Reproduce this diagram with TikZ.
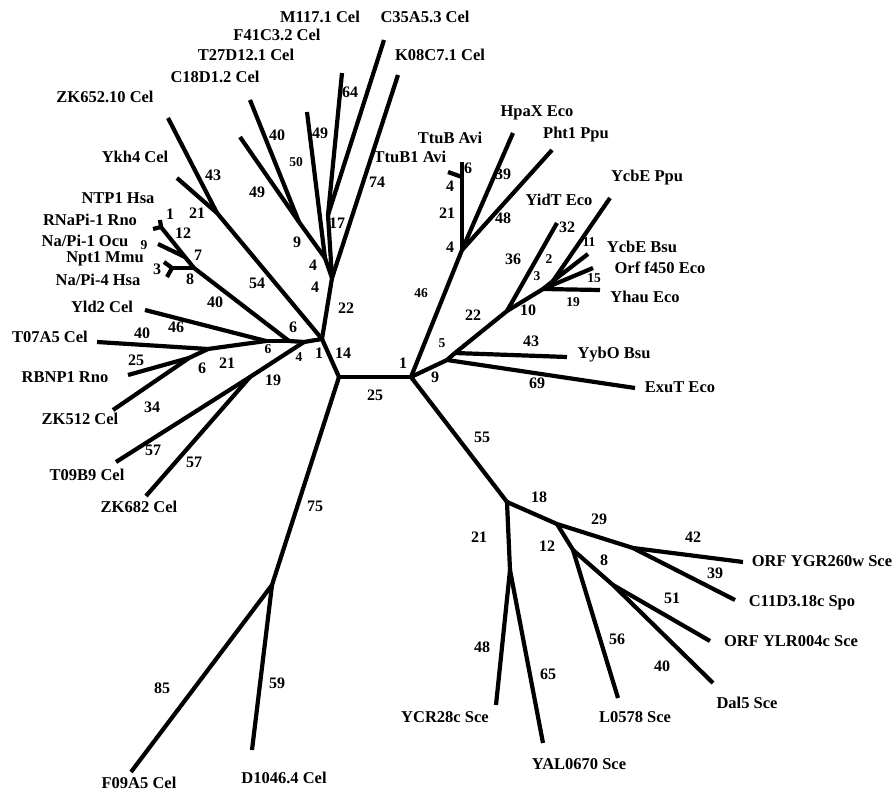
\documentclass[tikz,border=0pt]{standalone}
\usepackage{fontspec}
\setmainfont{Liberation Serif}
\begin{document}
\begin{tikzpicture}[x=1pt,y=-1pt,
  branch/.style={line width=4.2pt,line join=round},
  leaf/.style={font=\bfseries\fontsize{16.5}{16.5}\selectfont,inner sep=0pt},
  num/.style={font=\bfseries\fontsize{16}{16}\selectfont,inner sep=0pt},
  snum/.style={font=\bfseries\fontsize{13.5}{13.5}\selectfont,inner sep=0pt}]
\useasboundingbox (0,0) rectangle (895,791);

% ---- internal vertices ----
\coordinate (L) at (339,377);  \coordinate (R) at (411,377);
\coordinate (H1) at (322,339); \coordinate (H2) at (304,342);
\coordinate (H3) at (289,341); \coordinate (J3) at (266,341);
\coordinate (F) at (272,585);
\coordinate (B) at (332,278);  \coordinate (D) at (328,215);
\coordinate (C) at (325,258);  \coordinate (E) at (299,222);
\coordinate (Y) at (217,213);
\coordinate (N1) at (194,268); \coordinate (N4) at (172,268);
\coordinate (N2) at (185,257); \coordinate (N3) at (161,227);
\coordinate (G) at (250,377);
\coordinate (J1) at (208,349); \coordinate (J2) at (189,358);
\coordinate (Q) at (447,360);  \coordinate (S) at (455,353);
\coordinate (V) at (507,311);  \coordinate (W) at (543,289);
\coordinate (X) at (553,281);
\coordinate (T) at (462,250);  \coordinate (Tt) at (462,177);
\coordinate (Z) at (507,502);  \coordinate (Z3) at (510,570);
\coordinate (Z2) at (557,524); \coordinate (Z4) at (633,548);
\coordinate (Z5) at (573,550); \coordinate (Z6) at (613,585);

% ---- leaf tips ----
\coordinate (tF09) at (131,772);  \coordinate (tD10) at (252,750);
\coordinate (tK08) at (398,75);   \coordinate (tC35) at (384,40);
\coordinate (tM117) at (342,73);  \coordinate (tF41) at (307,112);
\coordinate (tT27) at (250,100);  \coordinate (tC18) at (240,137);
\coordinate (tZK652) at (168,118); \coordinate (tYkh4) at (177,178);
\coordinate (tNpt1) at (164,262); \coordinate (tNaPi4) at (167,277);
\coordinate (tNaPi1) at (158,244);
\coordinate (tRNaPi) at (153,229); \coordinate (tNTP1) at (160,220);
\coordinate (tT09) at (116,462);  \coordinate (tZK682) at (146,496);
\coordinate (tYld2) at (145,310); \coordinate (tT07) at (97,342);
\coordinate (tRBNP) at (128,375); \coordinate (tZK512) at (113,410);
\coordinate (tYybO) at (567,357); \coordinate (tExuT) at (635,388);
\coordinate (tYidT) at (557,223); \coordinate (tYhau) at (600,290);
\coordinate (tOrf) at (593,268);  \coordinate (tYcbEB) at (588,254);
\coordinate (tYcbEP) at (610,198);
\coordinate (tTtuB) at (462,162); \coordinate (tTtuB1) at (448,172);
\coordinate (tHpaX) at (513,133); \coordinate (tPht1) at (552,150);
\coordinate (tYCR) at (496,705);  \coordinate (tYAL) at (543,743);
\coordinate (tYGR) at (743,562);  \coordinate (tC11) at (735,600);
\coordinate (tL05) at (618,698);  \coordinate (tYLR) at (710,641);
\coordinate (tDal5) at (713,683);

% ---- branches ----
\draw[branch] (L) -- (R);
\draw[branch] (L) -- (H1);
\draw[branch] (L) -- (F);
\draw[branch] (F) -- (tF09);
\draw[branch] (F) -- (tD10);
\draw[branch] (H1) -- (B);
\draw[branch] (B) -- (tK08);
\draw[branch] (B) -- (D);
\draw[branch] (D) -- (tC35);
\draw[branch] (D) -- (tM117);
\draw[branch] (B) -- (C);
\draw[branch] (C) -- (tF41);
\draw[branch] (C) -- (E);
\draw[branch] (E) -- (tT27);
\draw[branch] (E) -- (tC18);
\draw[branch] (H1) -- (Y);
\draw[branch] (Y) -- (tZK652);
\draw[branch] (Y) -- (tYkh4);
\draw[branch] (H1) -- (H2);
\draw[branch] (H2) -- (H3);
\draw[branch] (H3) -- (J3);
\draw[branch] (H3) -- (N1);
\draw[branch] (N1) -- (N4);
\draw[branch] (N4) -- (tNpt1);
\draw[branch] (N4) -- (tNaPi4);
\draw[branch] (N1) -- (N2);
\draw[branch] (N2) -- (tNaPi1);
\draw[branch] (N2) -- (N3);
\draw[branch] (N3) -- (tRNaPi);
\draw[branch] (N3) -- (tNTP1);
\draw[branch] (H2) -- (G);
\draw[branch] (G) -- (tT09);
\draw[branch] (G) -- (tZK682);
\draw[branch] (J3) -- (tYld2);
\draw[branch] (J3) -- (J1);
\draw[branch] (J1) -- (tT07);
\draw[branch] (J1) -- (J2);
\draw[branch] (J2) -- (tRBNP);
\draw[branch] (J2) -- (tZK512);

\draw[branch] (R) -- (Q);
\draw[branch] (Q) -- (tExuT);
\draw[branch] (Q) -- (S);
\draw[branch] (S) -- (tYybO);
\draw[branch] (S) -- (V);
\draw[branch] (V) -- (tYidT);
\draw[branch] (V) -- (W);
\draw[branch] (W) -- (tYhau);
\draw[branch] (W) -- (tOrf);
\draw[branch] (W) -- (X);
\draw[branch] (X) -- (tYcbEB);
\draw[branch] (X) -- (tYcbEP);
\draw[branch] (R) -- (T);
\draw[branch] (T) -- (tHpaX);
\draw[branch] (T) -- (tPht1);
\draw[branch] (T) -- (Tt);
\draw[branch] (Tt) -- (tTtuB);
\draw[branch] (Tt) -- (tTtuB1);

\draw[branch] (R) -- (Z);
\draw[branch] (Z) -- (Z3);
\draw[branch] (Z3) -- (tYCR);
\draw[branch] (Z3) -- (tYAL);
\draw[branch] (Z) -- (Z2);
\draw[branch] (Z2) -- (Z4);
\draw[branch] (Z4) -- (tYGR);
\draw[branch] (Z4) -- (tC11);
\draw[branch] (Z2) -- (Z5);
\draw[branch] (Z5) -- (tL05);
\draw[branch] (Z5) -- (Z6);
\draw[branch] (Z6) -- (tYLR);
\draw[branch] (Z6) -- (tDal5);

% ---- leaf names ----
\node[leaf] (nM117) at (320,17) {M117.1 Cel};
\node[leaf] (nC35) at (425,17) {C35A5.3 Cel};
\node[leaf] (nF41) at (277,35) {F41C3.2 Cel};
\node[leaf] (nK08) at (440,55) {K08C7.1 Cel};
\node[leaf] (nT27) at (246,55) {T27D12.1 Cel};
\node[leaf] (nC18) at (215,77) {C18D1.2 Cel};
\node[leaf] (nZK652) at (105,97) {ZK652.10 Cel};
\node[leaf] (nYkh4) at (135,157) {Ykh4 Cel};
\node[leaf] (nNTP1) at (118,198) {NTP1 Hsa};
\node[leaf] (nRNaPi) at (90,220) {RNaPi-1 Rno};
\node[leaf] (nNaPi1) at (85,241) {Na/Pi-1 Ocu};
\node[leaf] (nNpt1) at (105,259) {Npt1 Mmu};
\node[leaf] (nNaPi4) at (98,280) {Na/Pi-4 Hsa};
\node[leaf] (nYld2) at (102,307) {Yld2 Cel};
\node[leaf] (nT07) at (50,337) {T07A5 Cel};
\node[leaf] (nRBNP) at (65,377) {RBNP1 Rno};
\node[leaf] (nZK512) at (80,419) {ZK512 Cel};
\node[leaf] (nT09) at (87,475) {T09B9 Cel};
\node[leaf] (nZK682) at (139,507) {ZK682 Cel};
\node[leaf] (nF09) at (139,783) {F09A5 Cel};
\node[leaf] (nD10) at (284,778) {D1046.4 Cel};
\node[leaf] (nTtuB) at (450,138) {TtuB Avi};
\node[leaf] (nTtuB1) at (410,157) {TtuB1 Avi};
\node[leaf] (nHpaX) at (537,113) {HpaX Eco};
\node[leaf] (nPht1) at (576,135) {Pht1 Ppu};
\node[leaf] (nYidT) at (559,200) {YidT Eco};
\node[leaf] (nYcbEP) at (647,178) {YcbE Ppu};
\node[leaf] (nYcbEB) at (642,247) {YcbE Bsu};
\node[leaf] (nOrf) at (660,268) {Orf f450 Eco};
\node[leaf] (nYhau) at (645,297) {Yhau Eco};
\node[leaf] (nYybO) at (614,355) {YybO Bsu};
\node[leaf] (nExuT) at (680,387) {ExuT Eco};
\node[leaf] (nYGR) at (822,561) {ORF YGR260w Sce};
\node[leaf] (nC11) at (802,603) {C11D3.18c Spo};
\node[leaf] (nYLR) at (791,641) {ORF YLR004c Sce};
\node[leaf] (nDal5) at (747,703) {Dal5 Sce};
\node[leaf] (nL05) at (635,717) {L0578 Sce};
\node[leaf] (nYCR) at (445,717) {YCR28c Sce};
\node[leaf] (nYAL) at (579,764) {YAL0670 Sce};

% ---- branch lengths ----
\node[num] (b01) at (375,395) {25};
\node[num] (b02) at (343,353) {14};
\node[num] (b03) at (319,353) {1};
\node[num] (b04) at (403,363) {1};
\node[num] (b05) at (315,506) {75};
\node[num] (b06) at (162,688) {85};
\node[num] (b07) at (277,683) {59};
\node[num] (b08) at (346,308) {22};
\node[num] (b09) at (315,287) {4};
\node[num] (b10) at (313,265) {4};
\node[num] (b11) at (337,223) {17};
\node[num] (b12) at (377,182) {74};
\node[num] (b13) at (350,92) {64};
\node[num] (b14) at (320,133) {49};
\node[snum] (b15) at (296,162) {50};
\node[num] (b16) at (277,135) {40};
\node[num] (b17) at (257,192) {49};
\node[num] (b18) at (297,242) {9};
\node[num] (b19) at (257,283) {54};
\node[num] (b20) at (213,175) {43};
\node[num] (b21) at (197,213) {21};
\node[num] (b22) at (293,327) {6};
\node[snum] (b23) at (268,349) {6};
\node[snum] (b24) at (299,357) {4};
\node[num] (b25) at (227,363) {21};
\node[num] (b26) at (202,368) {6};
\node[num] (b27) at (176,327) {46};
\node[num] (b28) at (142,333) {40};
\node[num] (b29) at (136,360) {25};
\node[num] (b30) at (152,407) {34};
\node[num] (b31) at (273,380) {19};
\node[num] (b32) at (153,450) {57};
\node[num] (b33) at (194,462) {57};
\node[num] (b34) at (170,214) {1};
\node[num] (b35) at (183,233) {12};
\node[snum] (b36) at (144,245) {9};
\node[num] (b37) at (198,255) {7};
\node[num] (b38) at (157,269) {3};
\node[num] (b39) at (190,279) {8};
\node[num] (b40) at (215,302) {40};
\node[snum] (b41) at (421,293) {46};
\node[num] (b42) at (450,247) {4};
\node[num] (b43) at (447,213) {21};
\node[num] (b44) at (450,186) {4};
\node[num] (b45) at (468,168) {6};
\node[num] (b46) at (503,174) {39};
\node[num] (b47) at (503,218) {48};
\node[snum] (b48) at (442,343) {5};
\node[num] (b49) at (435,377) {9};
\node[num] (b50) at (473,315) {22};
\node[num] (b51) at (528,310) {10};
\node[num] (b52) at (513,259) {36};
\node[num] (b53) at (567,227) {32};
\node[snum] (b54) at (549,259) {2};
\node[snum] (b55) at (537,276) {3};
\node[snum] (b56) at (589,242) {11};
\node[snum] (b57) at (594,278) {15};
\node[snum] (b58) at (573,302) {19};
\node[num] (b59) at (531,341) {43};
\node[num] (b60) at (537,383) {69};
\node[num] (b61) at (482,437) {55};
\node[num] (b62) at (539,497) {18};
\node[num] (b63) at (479,537) {21};
\node[num] (b64) at (599,519) {29};
\node[num] (b65) at (693,537) {42};
\node[num] (b66) at (715,573) {39};
\node[num] (b67) at (547,546) {12};
\node[num] (b68) at (604,560) {8};
\node[num] (b69) at (672,598) {51};
\node[num] (b70) at (617,639) {56};
\node[num] (b71) at (662,666) {40};
\node[num] (b72) at (482,647) {48};
\node[num] (b73) at (548,674) {65};
\end{tikzpicture}
\end{document}
